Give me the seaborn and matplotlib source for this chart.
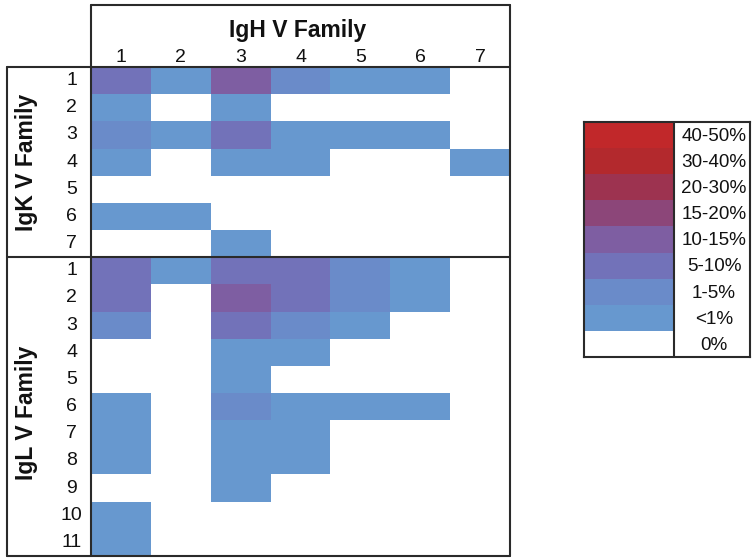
import numpy as np
import pandas as pd
import matplotlib
matplotlib.use("Agg")
import matplotlib.pyplot as plt
import seaborn as sns
from matplotlib.colors import ListedColormap
from matplotlib.lines import Line2D

# ---------------- data ----------------
igh_families = ["1", "2", "3", "4", "5", "6", "7"]
igk_families = ["1", "2", "3", "4", "5", "6", "7"]
igl_families = ["1", "2", "3", "4", "5", "6", "7", "8", "9", "10", "11"]

# level codes: 0=0%, 1=<1%, 2=1-5%, 3=5-10%, 4=10-15%, 5=15-20%, 6=20-30%, 7=30-40%, 8=40-50%
igk_levels = [
    [3, 1, 4, 2, 1, 1, 0],
    [1, 0, 1, 0, 0, 0, 0],
    [2, 1, 3, 1, 1, 1, 0],
    [1, 0, 1, 1, 0, 0, 1],
    [0, 0, 0, 0, 0, 0, 0],
    [1, 1, 0, 0, 0, 0, 0],
    [0, 0, 1, 0, 0, 0, 0],
]
igl_levels = [
    [3, 1, 3, 3, 2, 1, 0],
    [3, 0, 4, 3, 2, 1, 0],
    [2, 0, 3, 2, 1, 0, 0],
    [0, 0, 1, 1, 0, 0, 0],
    [0, 0, 1, 0, 0, 0, 0],
    [1, 0, 2, 1, 1, 1, 0],
    [1, 0, 1, 1, 0, 0, 0],
    [1, 0, 1, 1, 0, 0, 0],
    [0, 0, 1, 0, 0, 0, 0],
    [1, 0, 0, 0, 0, 0, 0],
    [1, 0, 0, 0, 0, 0, 0],
]
legend_labels = ["0%", "<1%", "1-5%", "5-10%", "10-15%", "15-20%", "20-30%", "30-40%", "40-50%"]
level_colors = ["#FFFFFF", "#6798CF", "#6A8BC9", "#7272B9", "#7E5EA2", "#8C4679",
                "#9D3350", "#B3292D", "#C1282A"]

# ---------------- figure ----------------
sns.set_theme(style="white")
plt.rcParams["font.family"] = ["Liberation Sans", "DejaVu Sans"]

W, H = 754, 559
fig = plt.figure(figsize=(W / 100, H / 100), dpi=100)
fig.patch.set_facecolor("white")


def fx(px):
    return px / W


def fy(py):
    return 1 - py / H


cmap = ListedColormap(level_colors)
n_levels = len(level_colors)

# main heatmap
x0, x1, y0, y1 = 91, 510, 67, 556
ax = fig.add_axes([fx(x0), fy(y1), fx(x1) - fx(x0), fy(y0) - fy(y1)])
row_index = [f"K{r}" for r in igk_families] + [f"L{r}" for r in igl_families]
data = pd.DataFrame(igk_levels + igl_levels, columns=igh_families, index=row_index)
sns.heatmap(data, ax=ax, cmap=cmap, vmin=-0.5, vmax=n_levels - 0.5, cbar=False,
            linewidths=0, xticklabels=igh_families,
            yticklabels=igk_families + igl_families)
ax.xaxis.tick_top()
ax.tick_params(axis="x", length=0, pad=1, labelsize=14, colors="#111111")
ax.tick_params(axis="y", length=0, pad=14, labelsize=14, colors="#111111")
for t in ax.get_yticklabels():
    t.set_rotation(0)
    t.set_ha("center")
for t in ax.get_xticklabels():
    t.set_rotation(0)
ax.set_xlabel("")
ax.set_ylabel("")
for s in ax.spines.values():
    s.set_visible(False)

# frame lines
lc = "#2a2a2a"
lw = 1.5


def hline(xa, xb, y):
    fig.add_artist(Line2D([fx(xa), fx(xb)], [fy(y), fy(y)], color=lc, lw=lw))


def vline(x, ya, yb):
    fig.add_artist(Line2D([fx(x), fx(x)], [fy(ya), fy(yb)], color=lc, lw=lw))


hline(x0, x1, 5)
vline(x0, 5, y1)
vline(x1, 5, y1)
hline(7, x1, y0)
vline(7, y0, y1)
hline(7, x1, y1)
sep = y0 + (y1 - y0) * len(igk_families) / (len(igk_families) + len(igl_families))
hline(7, x1, sep)

# titles
fig.text(fx(298), fy(37), "IgH V Family", ha="center", va="baseline",
         fontsize=16.5, fontweight="bold", color="#111111")
fig.text(fx(26), fy((y0 + sep) / 2), "IgK V Family", ha="center", va="center",
         rotation=90, fontsize=16.5, fontweight="bold", color="#111111")
fig.text(fx(26), fy((sep + y1) / 2 + 6), "IgL V Family", ha="center", va="center",
         rotation=90, fontsize=16.5, fontweight="bold", color="#111111")

# legend
lx0, lx1, ly0, ly1 = 584, 750, 122, 357
lax = fig.add_axes([fx(lx0), fy(ly1), fx(lx1) - fx(lx0), fy(ly0) - fy(ly1)])
codes = list(range(n_levels))[::-1]
leg = pd.DataFrame({"c": codes, "t": [np.nan] * n_levels})
sns.heatmap(leg, ax=lax, cmap=cmap, vmin=-0.5, vmax=n_levels - 0.5, cbar=False,
            xticklabels=False, yticklabels=False, linewidths=0)
lax.set_xlim(0, 1.85)
for i, code in enumerate(codes):
    lax.text(1.45, i + 0.55, legend_labels[code], ha="center", va="center",
             fontsize=13.6, color="#111111")
lax.axvline(1, color=lc, lw=lw)
for s in lax.spines.values():
    s.set_visible(True)
    s.set_color(lc)
    s.set_linewidth(lw)
lax.set_xlabel("")
lax.set_ylabel("")

fig.savefig("out.png", dpi=100, facecolor="white")
